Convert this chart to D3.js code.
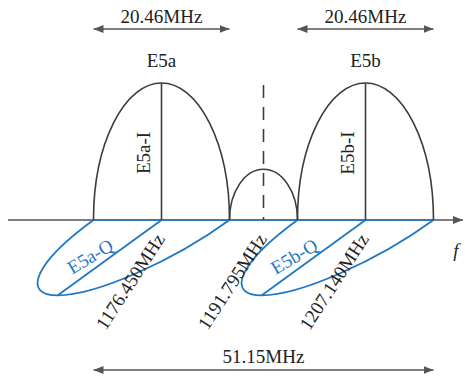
<!DOCTYPE html>
<html>
<head>
<meta charset="utf-8">
<script src="https://cdn.jsdelivr.net/npm/d3@7"></script>
<style>
  body { margin: 0; background: #fff; }
</style>
</head>
<body>
<div id="wrapper"></div>
<script>
// values
const signals = ["E5a", "E5b"]
const carrierFreqs = [1176.450, 1207.140]
const centerFreq = 1191.795
const labelFreqs = [1176.450, 1191.795, 1207.140]
const freqLabels = ["1176.450MHz", "1191.795MHz", "1207.140MHz"]
const halfBand = 10.23
const mainLobePeak = 1
const middleLobePeak = 0.37
const qLobeShift = 15.6
const qLobeDepth = 0.55
const bandLabels = ["20.46MHz", "20.46MHz"]
const totalLabel = "51.15MHz"

function drawSpectrum() {
    const dimensions = { width: 465, height: 379 }
    const black = "#3c3c3c"
    const blue = "#1f78c1"
    // font is set at 17px and scaled up to ~19px
    const baseSize = 17
    const k = 19 / 17

    const wrapper = d3.select("#wrapper")
        .append("svg")
        .attr("width", dimensions.width)
        .attr("height", dimensions.height)

    const label = (x, y, rot, str) => wrapper.append("text")
        .attr("transform", `translate(${x},${y}) rotate(${rot}) scale(${k})`)
        .text(str)

    const defs = wrapper.append("defs")
    defs.append("marker")
        .attr("id", "arrow")
        .attr("viewBox", "0 0 10 10")
        .attr("refX", 10).attr("refY", 5)
        .attr("markerWidth", 10).attr("markerHeight", 10)
        .attr("markerUnits", "userSpaceOnUse")
        .attr("orient", "auto-start-reverse")
        .append("path")
        .attr("d", "M0,1 L10,5 L0,9 Z")
        .attr("fill", "#555")

    // scales
    const xScale = d3.scaleLinear()
        .domain([carrierFreqs[0] - halfBand, carrierFreqs[1] + halfBand])
        .range([93.5, 433.5])
    const yScale = d3.scaleLinear()
        .domain([0, 1])
        .range([220, 83])

    const lo = xScale.domain()[0], hi = xScale.domain()[1]

    // frequency axis
    wrapper.append("line")
        .attr("x1", 8).attr("x2", 463)
        .attr("y1", yScale(0)).attr("y2", yScale(0))
        .attr("stroke", "#555").attr("stroke-width", 1.3)
        .attr("marker-end", "url(#arrow)")
    wrapper.append("line")
        .attr("x1", xScale(lo)).attr("x2", xScale(hi))
        .attr("y1", yScale(0)).attr("y2", yScale(0))
        .attr("stroke", blue).attr("stroke-width", 1.6)
    label(456, 257, 0, "f")
        .attr("text-anchor", "middle")
        .style("font-style", "italic")

    // Q lobes (drawn in perspective below the axis)
    signals.forEach((s, i) => {
        const c = carrierFreqs[i]
        const a = xScale(c + halfBand) - xScale(c)
        const cx = xScale(c - qLobeShift) - xScale(c)
        const dy = yScale(-qLobeDepth) - yScale(0)
        const g = wrapper.append("g")
            .attr("transform", `matrix(${a},0,${cx},${dy},${xScale(c)},${yScale(0)})`)
        g.append("path")
            .attr("d", "M1,0 A1,1 0 0 1 -1,0")
        g.append("path")
            .attr("d", "M0,0 L0,1")
        g.selectAll("path")
            .attr("fill", "none")
            .attr("stroke", blue)
            .attr("stroke-width", 1.8)
            .attr("vector-effect", "non-scaling-stroke")

        label(xScale(c - halfBand), 262, -31, s + "-Q")
            .attr("class", "q")
            .attr("text-anchor", "middle")
    })

    // I lobes
    const arch = (c, w, h) => {
        const x0 = xScale(c - w), x1 = xScale(c + w)
        const rx = (x1 - x0) / 2, ry = yScale(0) - yScale(h)
        return `M${x0},${yScale(0)} A${rx},${ry} 0 0 1 ${x1},${yScale(0)}`
    }
    signals.forEach((s, i) => {
        const c = carrierFreqs[i]
        wrapper.append("path")
            .attr("d", arch(c, halfBand, mainLobePeak))
            .attr("fill", "none").attr("stroke", black).attr("stroke-width", 1.6)
        wrapper.append("line")
            .attr("x1", xScale(c)).attr("x2", xScale(c))
            .attr("y1", yScale(0)).attr("y2", yScale(mainLobePeak))
            .attr("stroke", black).attr("stroke-width", 1.6)

        label(xScale(c) - 12, 153, -90, s + "-I")
            .attr("text-anchor", "middle")
        label(xScale(c), 67, 0, s)
            .attr("text-anchor", "middle")

        // bandwidth arrows
        wrapper.append("line")
            .attr("x1", xScale(c - halfBand)).attr("x2", xScale(c + halfBand))
            .attr("y1", 29).attr("y2", 29)
            .attr("stroke", "#555").attr("stroke-width", 1.3)
            .attr("marker-start", "url(#arrow)")
            .attr("marker-end", "url(#arrow)")
        label(xScale(c), 23, 0, bandLabels[i])
            .attr("text-anchor", "middle")
    })

    // middle lobe + dashed centre line
    const gap = (carrierFreqs[1] - carrierFreqs[0]) / 2 - halfBand
    wrapper.append("path")
        .attr("d", arch(centerFreq, gap, middleLobePeak))
        .attr("fill", "none").attr("stroke", black).attr("stroke-width", 1.6)
    wrapper.append("line")
        .attr("x1", xScale(centerFreq)).attr("x2", xScale(centerFreq))
        .attr("y1", yScale(mainLobePeak) + 2).attr("y2", yScale(0))
        .attr("stroke", black).attr("stroke-width", 1.6)
        .attr("stroke-dasharray", "13,9")

    // frequency labels
    labelFreqs.forEach((f, i) => {
        label(xScale(f) + 4, 239, -57, freqLabels[i])
            .attr("text-anchor", "end")
    })

    // total band
    wrapper.append("line")
        .attr("x1", xScale(lo)).attr("x2", xScale(hi))
        .attr("y1", 370).attr("y2", 370)
        .attr("stroke", "#555").attr("stroke-width", 1.3)
        .attr("marker-start", "url(#arrow)")
        .attr("marker-end", "url(#arrow)")
    label(xScale(centerFreq), 363, 0, totalLabel)
        .attr("text-anchor", "middle")

    // text styling
    wrapper.selectAll("text")
        .style("font-family", "\"Liberation Serif\"")
        .style("font-size", baseSize + "px")
        .style("fill", "#222")
    wrapper.selectAll("text.q")
        .style("fill", blue)
}
drawSpectrum()
</script>
</body>
</html>
